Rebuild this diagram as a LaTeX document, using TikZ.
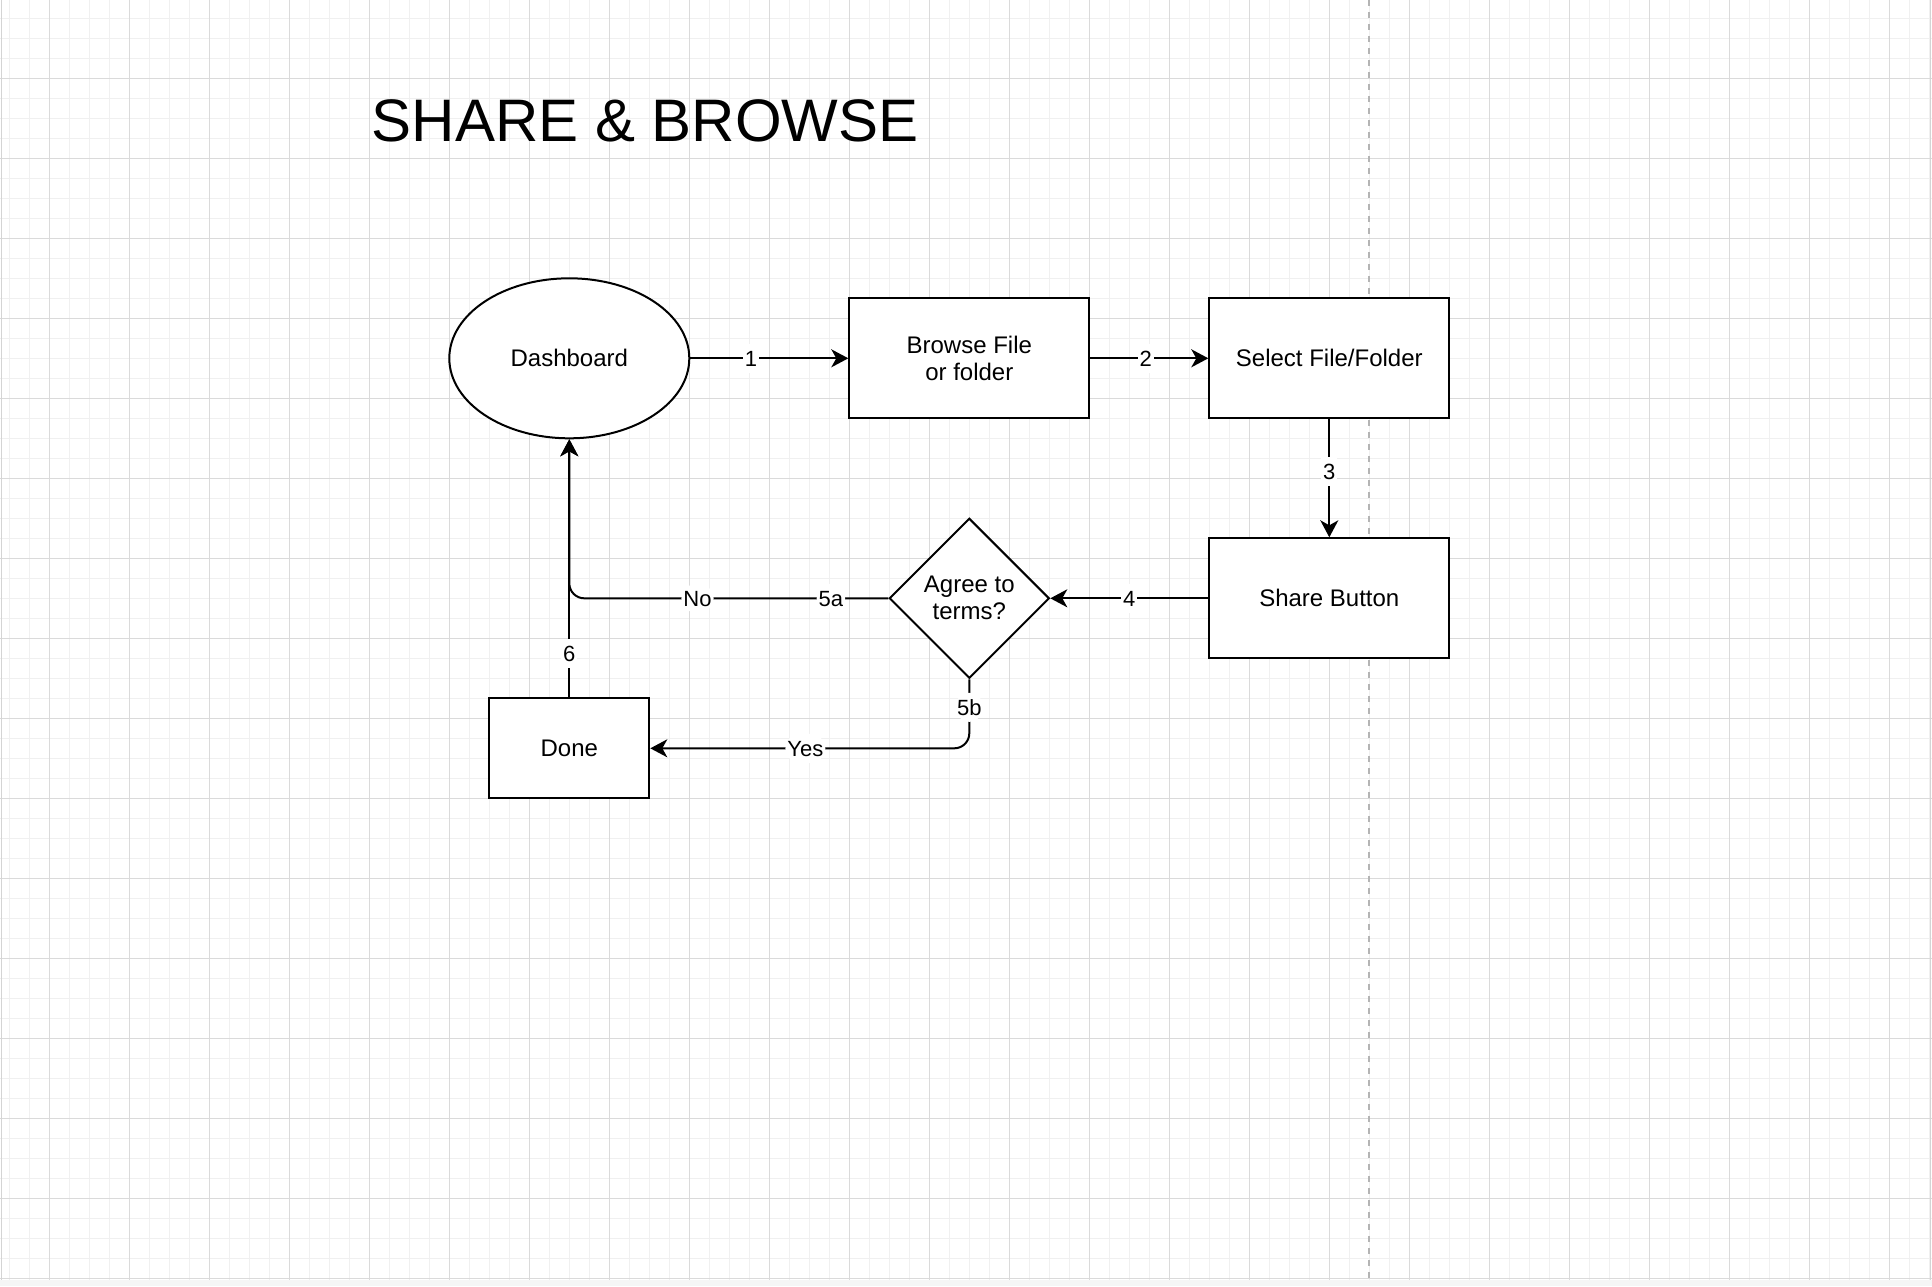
\documentclass[tikz,border=0pt]{standalone}
\usepackage{fontspec}
\setmainfont{Liberation Sans}
\usetikzlibrary{shapes.geometric,arrows.meta}
\definecolor{gminor}{HTML}{F0F0F0}
\definecolor{gmajor}{HTML}{DADADA}
\definecolor{gedge}{HTML}{D4D4D4}
\definecolor{pagebrk}{HTML}{B4B4B4}
\definecolor{band}{HTML}{F5F5F5}
\tikzset{
  shapebase/.style={draw=black, line width=2pt, fill=white, inner sep=0pt, align=center,
    font=\fontsize{24}{27}\selectfont},
  box/.style={shapebase, rectangle, minimum width=240pt, minimum height=120pt},
  oval/.style={shapebase, ellipse, minimum width=240pt, minimum height=160pt},
  dia/.style={shapebase, diamond, aspect=1, minimum width=160pt, minimum height=160pt},
  conn/.style={line width=2pt, -{Stealth[length=17pt,width=18pt,inset=5pt]}},
  lbl/.style={fill=white, inner xsep=2pt, inner ysep=3.5pt, text height=18.9pt, text depth=3.1pt,
    font=\fontsize{22}{26}\selectfont},
  titlestyle/.style={inner sep=0pt, font=\fontsize{60}{72}\selectfont}
}
\begin{document}
\begin{tikzpicture}[x=1pt,y=-1pt]
\useasboundingbox (0,0) rectangle (1932,1286);
\fill[white] (0,0) rectangle (1932,1286);
\fill[band] (0,1280) rectangle (1932,1286);
% minor grid
\foreach \i in {0,...,96} \draw[gminor, line width=1pt] ({9.3+20*\i},0) -- ({9.3+20*\i},1280);
\foreach \j in {0,...,63} \draw[gminor, line width=1pt] (0,{18.3+20*\j}) -- (1932,{18.3+20*\j});
% major grid
\foreach \i in {0,...,23} \draw[gmajor, line width=1pt] ({49.3+80*\i},0) -- ({49.3+80*\i},1280);
\foreach \j in {0,...,15} \draw[gmajor, line width=1pt] (0,{78.3+80*\j}) -- (1932,{78.3+80*\j});
\draw[gedge, line width=1.2pt] (1.5,0) -- (1.5,1280);
\draw[gedge, line width=1.2pt] (1930.5,0) -- (1930.5,1280);
% page break
\draw[pagebrk, line width=2pt, dash pattern=on 6pt off 6pt] (1369.3,0) -- (1369.3,1280);

\node[titlestyle, anchor=base west] (title) at (371.5,141.5) {SHARE \& BROWSE};

\node[oval] (dash) at (569.3,358.3) {Dashboard};
\node[box] (browse) at (969.3,358.3) {Browse File\\or folder};
\node[box] (select) at (1329.3,358.3) {Select File/Folder};
\node[box] (share) at (1329.3,598.3) {Share Button};
\node[dia] (agree) at (969.3,598.3) {Agree to\\terms?};
\node[box, minimum width=160pt, minimum height=100pt] (done) at (569.3,748.3) {Done};

\draw[conn] (dash) -- node[lbl,pos=0.384]{1} (browse);
\draw[conn] (browse) -- node[lbl,pos=0.47]{2} (select);
\draw[conn] (select) -- node[lbl,pos=0.444]{3} (share);
\draw[conn] (share) -- node[lbl,pos=0.5]{4} (agree);
\draw[conn, rounded corners=15pt] (agree.west) -| node[lbl,pos=0.09]{5a} node[lbl,pos=0.299]{No} (dash.south);
\draw[conn, rounded corners=15pt] (agree.south) |- node[lbl,pos=0.203]{5b} node[lbl,pos=0.757]{Yes} (done.east);
\draw[conn] (done.north) -- node[lbl,pos=0.17]{6} (dash.south);
\end{tikzpicture}
\end{document}
